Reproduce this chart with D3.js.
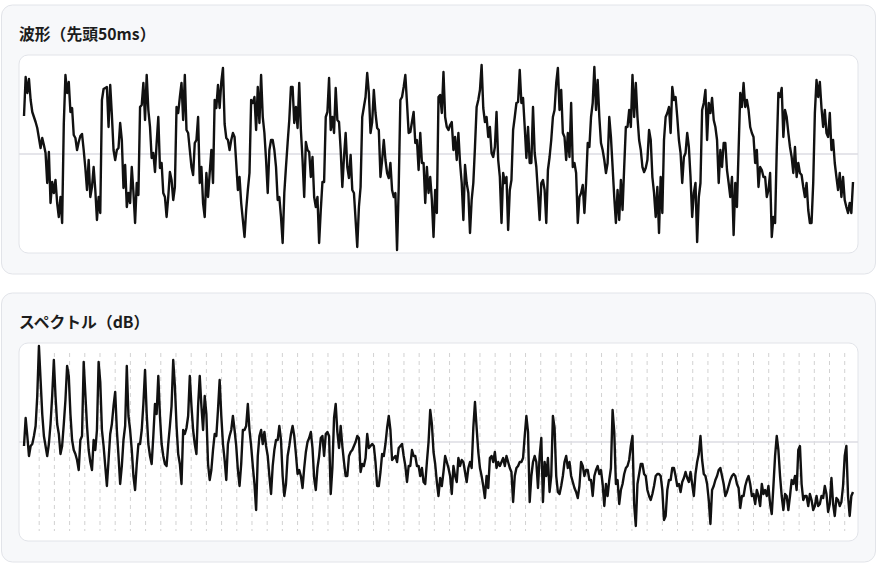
<!DOCTYPE html>
<html>
<head>
<meta charset="utf-8">
<script src="https://cdn.jsdelivr.net/npm/d3@7"></script>
<style>
  html, body { margin: 0; padding: 0; background: #fff; }
  svg { display: block; }
</style>
</head>
<body>
<svg id="chart"></svg>
<script>
let svgWidth = 882
let svgHeight = 569

// waveform: first 50 ms, one value every 0.1 ms
let waveStepMs = 0.1
let waveValues = [
  0.38, 0.77, 0.61, 0.75, 0.54, 0.42, 0.37, 0.32, 0.26, 0.16,
  0.06, 0.16, 0.09, 0.01, -0.29, 0.02, -0.49, -0.28, -0.39, -0.26,
  -0.49, -0.63, -0.43, -0.69, 0.30, 0.79, 0.61, 0.72, 0.42, 0.46,
  0.19, 0.16, 0.04, 0.12, 0.18, 0.20, 0.04, -0.14, -0.36, -0.06,
  -0.43, -0.33, -0.13, -0.36, -0.66, -0.43, -0.59, 0.54, 0.65, 0.66,
  0.67, 0.27, 0.69, 0.39, 0.04, -0.06, 0.04, 0.06, 0.31, 0.14,
  -0.34, -0.11, -0.53, -0.39, -0.49, -0.13, -0.38, -0.69, -0.29, -0.41,
  0.47, 0.49, 0.71, 0.34, 0.79, 0.44, 0.27, -0.04, 0.01, -0.18,
  0.11, 0.37, -0.14, -0.09, -0.39, -0.43, -0.63, -0.43, -0.18, -0.26,
  -0.46, -0.33, 0.47, 0.41, 0.57, 0.71, 0.34, 0.79, 0.24, 0.21,
  0.04, -0.13, -0.21, 0.11, 0.14, 0.37, -0.29, -0.13, -0.49, -0.63,
  -0.19, -0.43, -0.19, 0.04, -0.29, 0.54, 0.46, 0.69, 0.46, 0.72,
  0.86, 0.30, 0.16, 0.14, 0.04, 0.14, 0.21, 0.17, -0.09, -0.36,
  -0.23, -0.49, -0.66, -0.83, -0.56, -0.36, -0.19, 0.54, 0.51, 0.57,
  0.24, 0.67, 0.31, 0.79, 0.37, 0.21, -0.06, -0.39, 0.04, 0.14,
  0.14, 0.04, -0.13, -0.46, -0.43, -0.63, -0.89, -0.39, -0.13, 0.11,
  0.34, 0.67, 0.67, 0.31, 0.47, 0.26, 0.71,
  0.24, -0.06, -0.43, 0.12, 0.04, 0.02, -0.23, -0.03, -0.43, -0.53,
  -0.43, -0.89, -0.56, -0.28, -0.28, 0.37, 0.42, 0.76, 0.24, 0.37,
  0.21, 0.66, 0.34, 0.32, 0.04, -0.33, -0.03, 0.21, -0.13, -0.24,
  -0.01, -0.36, -0.39, -0.66, -0.93, -0.53, -0.33, 0.37, 0.47, 0.57,
  0.81, 0.61, 0.21, 0.32, 0.64, 0.41, 0.26, 0.24, -0.23, -0.06,
  0.14, -0.06, -0.19, -0.24, -0.09, -0.36, -0.43, -0.39, -0.96, -0.33,
  0.54, 0.57, 0.67, 0.79, 0.51, 0.21, 0.22, 0.32, 0.42, 0.11,
  0.14, -0.16, 0.21, -0.09, -0.09, -0.49, -0.13, -0.39, -0.23, -0.46,
  -0.83, -0.36, -0.59, 0.57, 0.59, 0.41, 0.82, 0.37, 0.27, 0.24,
  0.29, 0.32, 0.04, 0.17, -0.06, 0.21, -0.09, -0.29, -0.66, -0.11,
  -0.29, -0.39, -0.79, -0.46, -0.29, 0.07, 0.47, 0.54, 0.64, 0.89,
  0.46, 0.32, 0.37, 0.17, 0.27, 0.01, -0.03, 0.07, 0.42, -0.06,
  -0.23, -0.69, -0.19, -0.29, -0.23, -0.76, -0.36, -0.26, 0.24, 0.37,
  0.51, 0.52, 0.84, 0.51, 0.56, 0.27, -0.04, 0.27, -0.09, -0.09,
  0.47, 0.01, -0.13, -0.39, -0.66, -0.29, -0.26, -0.36, -0.69, -0.16,
  -0.03, 0.14, 0.37, 0.44, 0.71, 0.86, 0.44, 0.64, 0.21, 0.17,
  -0.06, 0.21, -0.03, 0.51, -0.13, -0.09, -0.19, -0.69, -0.43,
  -0.39, -0.31, -0.59, -0.29, 0.11, 0.07, 0.37, 0.51, 0.87, 0.44,
  0.74, 0.37, 0.11, 0.04, -0.06, -0.19, -0.09, 0.37, 0.17, -0.13,
  -0.43, -0.69, -0.36, -0.66, -0.26, -0.56, -0.13, 0.27, 0.27, 0.44,
  0.27, 0.79, 0.37, 0.71, 0.37, 0.14, 0.04, -0.13, -0.18, -0.14,
  -0.06, 0.24, 0.14, -0.23, -0.39, -0.63, -0.33, -0.79, -0.23, -0.59,
  0.14, 0.37, 0.41, 0.47, 0.21, 0.67, 0.54, 0.57, 0.37, 0.14,
  0.01, -0.29, -0.03, 0.01, 0.21, 0.07, -0.23, -0.63, -0.39, -0.29,
  -0.88, -0.43, -0.29, 0.44, 0.51, 0.64, 0.14, 0.51, 0.41, 0.56,
  0.34, 0.27, 0.14, -0.29, 0.04, -0.13, 0.11, 0.11, -0.16, -0.29,
  -0.43, -0.23, -0.81, -0.29, -0.53, 0.04, 0.61, 0.47, 0.71, 0.47,
  0.54, 0.44, 0.27, 0.21, 0.17, -0.09, 0.04, -0.33, -0.13, -0.16,
  -0.23, -0.23, -0.43, -0.36, -0.19, -0.83, -0.63, -0.69, 0.04, 0.61,
  0.57, 0.66, 0.17, 0.44, 0.37, 0.21, 0.07, -0.03, -0.19, 0.07,
  -0.23, -0.09, -0.19, -0.21, -0.33, -0.43, -0.29, -0.56, -0.69, -0.69,
  -0.29, 0.41, 0.74, 0.57, 0.72, 0.46, 0.27, 0.44, 0.21, 0.17,
  0.41, 0.04, 0.14, -0.09, -0.23, -0.36, -0.19, -0.43, -0.23, -0.46,
  -0.53, -0.59, -0.49, -0.59, -0.28
]

// spectrum: 0 .. 24000 Hz, one value every 48 Hz, in dB
let specStepHz = 48
let specMaxHz = 24000
let specDb = [
  -52, -38, -47, -57, -52, -51, -47, -42, -27, -2,
  -19, -36, -47, -52, -57, -51, -41, -27, -9, -27,
  -41, -46, -56, -52, -41, -29, -12, -17, -36, -49,
  -54, -56, -59, -64, -49, -47, -10, -26, -42, -54,
  -60, -64, -49, -54, -44, -10, -20, -44, -52, -62,
  -72, -59, -46, -41, -32, -25, -44, -57, -71, -62,
  -49, -42, -12, -37, -44, -54, -67, -74, -61, -51,
  -51, -44, -31, -14, -36, -51, -57, -61, -47, -31,
  -36, -17, -37, -51, -57, -61, -62, -51, -42, -32,
  -9, -22, -42, -56, -61, -71, -44, -46, -43, -37,
  -17, -32, -44, -51, -56, -32, -17, -32, -44, -27,
  -36, -61, -69, -64, -54, -46, -47, -34, -19, -37,
  -51, -59, -69, -51, -47, -44, -37, -44, -52, -64,
  -72, -61, -44, -44, -42, -31, -44, -52, -62, -71,
  -84, -57, -47, -44, -51, -45, -52, -57, -67, -76,
  -62, -54, -49, -49, -42, -49, -67, -77, -71, -57,
  -52, -46, -42, -47, -56, -66, -64,
  -67, -73, -63, -55, -50, -48, -45, -53, -68, -74,
  -63, -57, -48, -47, -57, -46, -45, -47, -76, -63,
  -38, -31, -45, -53, -42, -52, -60, -67, -67, -57,
  -55, -54, -52, -50, -47, -48, -65, -61, -62, -58,
  -46, -53, -52, -51, -52, -60, -72, -72, -65, -56,
  -57, -51, -43, -37, -44, -59, -58, -57, -60, -53,
  -52, -51, -57, -62, -70, -62, -62, -54, -57, -57,
  -62, -62, -67, -63, -70, -71, -60, -50, -34, -41,
  -55, -61, -70, -77, -68, -72, -65, -57, -60, -63,
  -67, -76, -62, -67, -70, -58, -62, -59, -60, -65,
  -70, -63, -60, -63, -43, -30, -43, -55, -63, -67,
  -72, -78, -67, -73, -58, -57, -60, -55, -63, -60,
  -62, -60, -58, -62, -57, -60, -63, -65, -80, -67,
  -63, -62, -60, -60, -58, -47, -37, -45, -80, -67,
  -60, -57, -60, -73, -57, -48, -80, -60, -67, -58,
  -75, -67, -37, -43, -67, -75, -76, -72, -67, -60,
  -57, -63, -60, -67, -70, -73, -75, -78, -72,
  -60, -62, -67, -64, -64, -69, -69, -77, -67, -64,
  -62, -66, -64, -71, -82, -71, -77, -69, -63, -34,
  -45, -71, -69, -81, -74, -71, -66, -63, -62, -59,
  -52, -47, -81, -92, -71, -66, -61, -61, -66, -67,
  -74, -77, -79, -76, -72, -67, -66, -66, -67, -74,
  -89, -87, -74, -69, -69, -63, -63, -67, -72, -71,
  -75, -70, -68, -65, -68, -70, -65, -71, -77, -66,
  -60, -56, -47, -59, -66, -67, -71, -79, -91, -74,
  -72, -69, -67, -64, -63, -67, -71, -77, -75, -72,
  -69, -67, -66, -67, -71, -73, -83, -77, -77, -72,
  -69, -67, -71, -77, -76, -81, -74, -77, -82, -71,
  -76, -74, -77, -72, -81, -86, -72, -57, -47, -54,
  -67, -77, -84, -76, -77, -84, -77, -69, -71, -67,
  -74, -54, -52, -71, -79, -77, -77, -82, -76, -79,
  -84, -82, -77, -82, -81, -77, -78, -72, -76, -85,
  -81, -68, -81, -87, -78, -79, -82, -80, -72, -57,
  -52, -77, -87, -77, -75
]

// harmonic markers (multiples of the fundamental)
let fundamentalHz = 440
let harmonicCount = 54

let panelTitles = ['波形（先頭50ms）', 'スペクトル（dB）']

// layout
let cardX = 1.5
let cardW = 874
let cardH = 269
let cardTops = [5, 293]
let boxX = 19
let boxW = 839
let boxOffset = 50
let boxH = 198
let plotLeft = 24
let plotRight = 853

let svg = d3.select('#chart').attr('width', svgWidth).attr('height', svgHeight)

function drawCard(top, title) {
  let g = svg.append('g')
  g.append('rect')
    .attr('x', cardX).attr('y', top)
    .attr('width', cardW).attr('height', cardH)
    .attr('rx', 11)
    .attr('fill', '#f7f8fa')
    .attr('stroke', '#e2e4e9')
  g.append('text')
    .attr('x', boxX).attr('y', top + 34.5)
    .attr('font-family', '"Noto Sans CJK JP", "Noto Sans", sans-serif')
    .attr('font-size', 15.8)
    .attr('font-weight', 600)
    .attr('fill', '#1c1c1c')
    .text(title)
  g.append('rect')
    .attr('x', boxX).attr('y', top + boxOffset)
    .attr('width', boxW).attr('height', boxH)
    .attr('rx', 9)
    .attr('fill', '#ffffff')
    .attr('stroke', '#e2e4e9')
  return g
}

// --- waveform ---
let top1 = cardTops[0]
let g1 = drawCard(top1, panelTitles[0])
let xWave = d3.scaleLinear().domain([0, (waveValues.length - 1) * waveStepMs]).range([plotLeft, plotRight])
let yWave = d3.scaleLinear().domain([-1, 1]).range([top1 + boxOffset + boxH + 1, top1 + boxOffset - 1])

g1.append('line')
  .attr('x1', boxX).attr('x2', boxX + boxW)
  .attr('y1', yWave(0)).attr('y2', yWave(0))
  .attr('stroke', '#dcdce3')
  .attr('stroke-width', 1.5)

let waveLine = d3.line()
  .x((d, i) => xWave(i * waveStepMs))
  .y(d => yWave(d))

g1.append('path')
  .datum(waveValues)
  .attr('d', waveLine)
  .attr('fill', 'none')
  .attr('stroke', '#111')
  .attr('stroke-width', 2.4)
  .attr('stroke-linejoin', 'round')

// --- spectrum ---
let top2 = cardTops[1]
let g2 = drawCard(top2, panelTitles[1])
let xSpec = d3.scaleLinear().domain([0, specMaxHz]).range([plotLeft, plotRight])
let ySpec = d3.scaleLinear().domain([-100, 0]).range([top2 + boxOffset + boxH + 1, top2 + boxOffset - 1])

let harmonics = d3.range(1, harmonicCount + 1).map(k => k * fundamentalHz)
g2.selectAll('line.harm')
  .data(harmonics)
  .enter()
  .append('line')
  .attr('class', 'harm')
  .attr('x1', d => xSpec(d)).attr('x2', d => xSpec(d))
  .attr('y1', top2 + boxOffset + 10).attr('y2', top2 + boxOffset + boxH - 10)
  .attr('stroke', '#d2d2d2')
  .attr('stroke-width', 1)
  .attr('stroke-dasharray', '4,4')

g2.append('line')
  .attr('x1', boxX).attr('x2', boxX + boxW)
  .attr('y1', ySpec(-50)).attr('y2', ySpec(-50))
  .attr('stroke', '#dcdce3')
  .attr('stroke-width', 1.5)

let specLine = d3.line()
  .x((d, i) => xSpec(i * specStepHz))
  .y(d => ySpec(d))

g2.append('path')
  .datum(specDb)
  .attr('d', specLine)
  .attr('fill', 'none')
  .attr('stroke', '#111')
  .attr('stroke-width', 2.4)
  .attr('stroke-linejoin', 'round')
</script>
</body>
</html>
